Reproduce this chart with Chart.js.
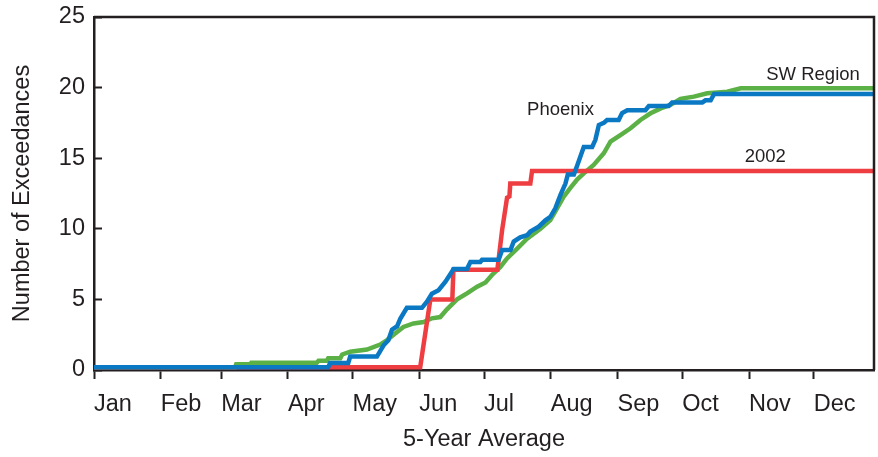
<!DOCTYPE html>
<html>
<head>
<meta charset="utf-8">
<script src="https://cdn.jsdelivr.net/npm/chart.js@4.4.1/dist/chart.umd.min.js"></script>
<style>
  html, body { margin: 0; padding: 0; background: #fff; }
  #exceedances { display: block; }
</style>
</head>
<body>
<canvas id="exceedances" width="878" height="457"></canvas>
<script>
// day-of-year axis: month start days and names
const monthStarts = [0, 31, 59, 90, 120, 151, 181, 212, 243, 273, 304, 334];
const monthNames = ["Jan", "Feb", "Mar", "Apr", "May", "Jun", "Jul", "Aug", "Sep", "Oct", "Nov", "Dec"];
const yTicks = [0, 5, 10, 15, 20, 25];

// Phoenix, cumulative exceedances (5-year average)
const phoenixDays = [0, 108.7, 109.6, 118.0, 118.9, 131.3, 134.4, 136.6, 138.3, 140.7, 142.2, 145.2, 152.2, 154.6, 156.8,
  159.9, 163.1, 164.6, 166.9, 173.1, 174.7, 179.3, 180.1, 187.8, 189.4, 193.3, 194.8, 197.8, 201.0, 202.5, 206.4,
  209.5, 211.8, 214.1, 216.5, 218.8, 219.9, 222.7, 224.3, 227.3, 231.2, 232.7, 234.3, 236.6, 238.1, 243.5, 245.1,
  247.5, 255.9, 257.5, 266.7, 268.3, 282.3, 283.8, 286.2, 287.8, 362];
const phoenixValues = [0.2, 0.2, 0.5, 0.5, 0.95, 0.95, 1.75, 2.1, 2.85, 3.1, 3.65, 4.4, 4.4, 4.85, 5.4,
  5.65, 6.25, 6.6, 7.15, 7.15, 7.65, 7.65, 7.8, 7.8, 8.5, 8.5, 9.1, 9.4, 9.55, 9.8, 10.15,
  10.6, 10.85, 11.45, 12.4, 13.2, 13.85, 13.85, 14.5, 15.8, 15.8, 16.3, 17.35, 17.5, 17.7, 17.7, 18.2,
  18.4, 18.4, 18.7, 18.7, 18.95, 18.95, 19.1, 19.1, 19.55, 19.55];

// SW Region, cumulative exceedances (5-year average)
const swDays = [0, 65.5, 66.0, 72.5, 73.0, 103.4, 104.2, 108.1, 108.7, 114.3, 115.2, 118.9, 126.7, 132.8, 136.0,
  139.9, 143.6, 148.3, 153.0, 156.8, 160.7, 163.8, 168.5, 173.1, 177.8, 181.7, 184.7, 188.6, 191.7, 196.4,
  201.0, 207.2, 211.8, 214.9, 218.0, 221.1, 224.3, 227.3, 231.9, 236.6, 239.7, 244.3, 249.0, 253.6, 258.3,
  263.0, 267.5, 272.2, 278.4, 284.6, 293.9, 300.1, 362];
const swValues = [0.2, 0.2, 0.4, 0.4, 0.52, 0.52, 0.66, 0.66, 0.83, 0.83, 1.1, 1.3, 1.45, 1.8, 2.12,
  2.6, 3.05, 3.3, 3.4, 3.66, 3.75, 4.3, 5.0, 5.43, 5.9, 6.2, 6.73, 7.3, 7.9, 8.6,
  9.3, 10.0, 10.62, 11.45, 12.27, 12.9, 13.5, 13.93, 14.52, 15.35, 16.17, 16.64, 17.12, 17.71, 18.18,
  18.53, 18.77, 19.2, 19.36, 19.6, 19.71, 19.95, 19.95];

// 2002 season
const y2002Days = [0, 151.4, 156.1, 166.3, 166.8, 187.2, 189.4, 191.7, 192.8, 193.2, 202.5, 203.3, 362];
const y2002Values = [0.2, 0.2, 5.0, 5.0, 7.1, 7.1, 9.9, 12.2, 12.3, 13.2, 13.2, 14.1, 14.1];

const toPoints = (days, values) => days.map((d, i) => ({ x: d, y: values[i] }));

const ink = "#231f20";
const font = { family: "'Liberation Sans', Arial, sans-serif", size: 23.5 };

// top and right edges of the plot frame
const frameEdges = {
  id: "frameEdges",
  afterDatasetsDraw(chart) {
    const { ctx, chartArea: a } = chart;
    ctx.save();
    ctx.strokeStyle = ink;
    ctx.lineWidth = 2.5;
    ctx.beginPath();
    ctx.moveTo(a.left, a.top);
    ctx.lineTo(a.right, a.top);
    ctx.lineTo(a.right, a.bottom);
    ctx.stroke();
    ctx.restore();
  },
};

// series names written next to their lines
const seriesLabels = {
  id: "seriesLabels",
  afterDatasetsDraw(chart) {
    const { ctx, scales } = chart;
    const items = [
      { text: "Phoenix", x: 201, y: 18.4 },
      { text: "SW Region", x: 312, y: 20.9 },
      { text: "2002", x: 302, y: 15.1 },
    ];
    ctx.save();
    ctx.fillStyle = ink;
    ctx.font = "18.5px 'Liberation Sans', Arial, sans-serif";
    ctx.textAlign = "left";
    ctx.textBaseline = "middle";
    items.forEach((it) => {
      ctx.fillText(it.text, scales.x.getPixelForValue(it.x), scales.y.getPixelForValue(it.y));
    });
    ctx.restore();
  },
};

new Chart(document.getElementById("exceedances"), {
  type: "line",
  data: {
    datasets: [
      {
        label: "Phoenix",
        data: toPoints(phoenixDays, phoenixValues),
        borderColor: "#0a78c2",
        borderWidth: 4.5,
        pointRadius: 0,
        tension: 0,
      },
      {
        label: "2002",
        data: toPoints(y2002Days, y2002Values),
        borderColor: "#ef3e42",
        borderWidth: 4.5,
        pointRadius: 0,
        tension: 0,
      },
      {
        label: "SW Region",
        data: toPoints(swDays, swValues),
        borderColor: "#5cb146",
        borderWidth: 4.5,
        pointRadius: 0,
        tension: 0,
      },
    ],
  },
  options: {
    responsive: false,
    animation: false,
    layout: {
      padding: { top: 17, right: 4, left: 0, bottom: 0 },
    },
    plugins: {
      legend: { display: false },
      tooltip: { enabled: false },
    },
    scales: {
      x: {
        type: "linear",
        min: 0,
        max: 362,
        afterBuildTicks: (scale) => {
          scale.ticks = monthStarts.map((v) => ({ value: v }));
        },
        afterFit: (scale) => {
          scale.height = 87;
        },
        grid: {
          drawOnChartArea: false,
          drawTicks: true,
          tickLength: 9,
          tickWidth: 2,
          tickColor: ink,
        },
        border: { color: ink, width: 2.5 },
        ticks: {
          align: "start",
          padding: 11,
          color: ink,
          font: font,
          maxRotation: 0,
          autoSkip: false,
          callback: (value) => monthNames[monthStarts.indexOf(value)],
        },
        title: {
          display: true,
          text: "5-Year Average",
          color: ink,
          font: font,
          padding: { top: 0, bottom: 3 },
        },
      },
      y: {
        min: 0,
        max: 25,
        afterBuildTicks: (scale) => {
          scale.ticks = yTicks.map((v) => ({ value: v }));
        },
        afterFit: (scale) => {
          scale.width = 94;
          scale.paddingTop = 0;
        },
        grid: {
          drawOnChartArea: false,
          drawTicks: true,
          tickLength: -8,
          tickWidth: 2,
          tickColor: ink,
        },
        border: { color: ink, width: 2.5 },
        ticks: {
          padding: 17,
          color: ink,
          font: font,
        },
        title: {
          display: true,
          text: "Number of Exceedances",
          color: ink,
          font: font,
          padding: { top: 8, bottom: 0 },
        },
      },
    },
  },
  plugins: [frameEdges, seriesLabels],
});
</script>
</body>
</html>
